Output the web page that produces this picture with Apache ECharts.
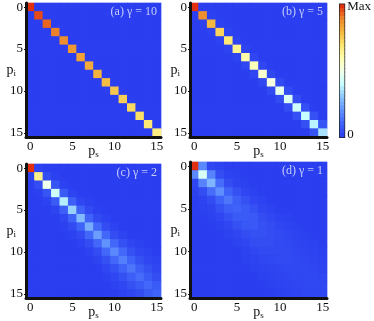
<!DOCTYPE html>
<html>
<head>
<meta charset="utf-8">
<style>
  html, body { margin: 0; padding: 0; background: #fff; }
  #main { width: 374px; height: 321px; }
</style>
<script src="https://cdn.jsdelivr.net/npm/echarts@6/dist/echarts.min.js"></script>
</head>
<body>
<div id="main"></div>
<script>
// tick labels shared by all panels
const photonNumbers = ['0','1','2','3','4','5','6','7','8','9','10','11','12','13','14','15']

// (a) gamma = 10
const gamma10 = [
  [1.00,0,0,0,0,0,0,0,0,0,0,0,0,0,0,0],
  [0,.97,0,0,0,0,0,0,0,0,0,0,0,0,0,0],
  [0,0,.94,0,0,0,0,0,0,0,0,0,0,0,0,0],
  [0,0,0,.91,0,0,0,0,0,0,0,0,0,0,0,0],
  [0,0,0,0,.89,0,0,0,0,0,0,0,0,0,0,0],
  [0,0,0,0,0,.87,0,0,0,0,0,0,0,0,0,0],
  [0,0,0,0,0,0,.85,0,0,0,0,0,0,0,0,0],
  [0,0,0,0,0,0,0,.83,0,0,0,0,0,0,0,0],
  [0,0,0,0,0,0,0,0,.81,0,0,0,0,0,0,0],
  [0,0,0,0,0,0,0,0,0,.79,0,0,0,0,0,0],
  [0,0,0,0,0,0,0,0,0,0,.77,0,0,0,0,0],
  [0,0,0,0,0,0,0,0,0,0,0,.75,0,0,0,0],
  [0,0,0,0,0,0,0,0,0,0,0,0,.73,0,0,0],
  [0,0,0,0,0,0,0,0,0,0,0,0,0,.71,0,0],
  [0,0,0,0,0,0,0,0,0,0,0,0,0,0,.69,0],
  [0,0,0,0,0,0,0,0,0,0,0,0,0,0,0,.67]
]

// (b) gamma = 5
const gamma5 = [
  [1.00,0,0,0,0,0,0,0,0,0,0,0,0,0,0,0],
  [0,.89,.005,0,0,0,0,0,0,0,0,0,0,0,0,0],
  [0,.005,.80,.005,0,0,0,0,0,0,0,0,0,0,0,0],
  [0,0,.005,.74,.01,0,0,0,0,0,0,0,0,0,0,0],
  [0,0,0,.01,.69,.01,0,0,0,0,0,0,0,0,0,0],
  [0,0,0,0,.01,.65,.015,0,0,0,0,0,0,0,0,0],
  [0,0,0,0,0,.015,.61,.02,0,0,0,0,0,0,0,0],
  [0,0,0,0,0,0,.02,.58,.02,0,0,0,0,0,0,0],
  [0,0,0,0,0,0,0,.02,.55,.025,0,0,0,0,0,0],
  [0,0,0,0,0,0,0,0,.025,.52,.03,0,0,0,0,0],
  [0,0,0,0,0,0,0,0,0,.03,.48,.035,0,0,0,0],
  [0,0,0,0,0,0,0,0,0,0,.035,.45,.04,0,0,0],
  [0,0,0,0,0,0,0,0,0,0,0,.04,.42,.045,0,0],
  [0,0,0,0,0,0,0,0,0,0,0,0,.045,.40,.05,0],
  [0,0,0,0,0,0,0,0,0,0,0,0,0,.05,.38,.06],
  [0,0,0,0,0,0,0,0,0,0,0,0,0,0,.06,.35]
]

// (c) gamma = 2
const gamma2 = [
  [1.00,.01,0,0,0,0,0,0,0,0,0,0,0,0,0,0],
  [.01,.66,.04,.005,0,0,0,0,0,0,0,0,0,0,0,0],
  [0,.04,.49,.06,.01,0,0,0,0,0,0,0,0,0,0,0],
  [0,.005,.06,.42,.08,.015,0,0,0,0,0,0,0,0,0,0],
  [0,0,.01,.08,.37,.09,.02,.005,0,0,0,0,0,0,0,0],
  [0,0,0,.015,.09,.32,.10,.03,.005,0,0,0,0,0,0,0],
  [0,0,0,0,.02,.10,.28,.10,.03,.01,0,0,0,0,0,0],
  [0,0,0,0,.005,.03,.10,.25,.11,.04,.01,0,0,0,0,0],
  [0,0,0,0,0,.005,.03,.11,.22,.11,.04,.015,0,0,0,0],
  [0,0,0,0,0,0,.01,.04,.11,.20,.11,.05,.02,.005,0,0],
  [0,0,0,0,0,0,0,.01,.04,.11,.18,.11,.05,.02,.01,0],
  [0,0,0,0,0,0,0,0,.015,.05,.11,.16,.10,.05,.02,.01],
  [0,0,0,0,0,0,0,0,0,.02,.05,.10,.14,.09,.05,.02],
  [0,0,0,0,0,0,0,0,0,.005,.02,.05,.09,.12,.08,.04],
  [0,0,0,0,0,0,0,0,0,0,.01,.02,.05,.08,.11,.08],
  [0,0,0,0,0,0,0,0,0,0,0,.01,.02,.04,.08,.10]
]

// (d) gamma = 1
const gamma1 = [
  [1.00,.18,.02,.01,0,0,0,0,0,0,0,0,0,0,0,0],
  [.18,.44,.17,.04,.01,.005,0,0,0,0,0,0,0,0,0,0],
  [.02,.17,.27,.12,.04,.015,.005,0,0,0,0,0,0,0,0,0],
  [.01,.04,.12,.19,.10,.05,.02,.005,0,0,0,0,0,0,0,0],
  [0,.01,.04,.10,.14,.09,.05,.02,.01,0,0,0,0,0,0,0],
  [0,.005,.015,.05,.09,.10,.08,.05,.02,.01,0,0,0,0,0,0],
  [0,0,.005,.02,.05,.08,.08,.07,.04,.02,.01,.005,0,0,0,0],
  [0,0,0,.005,.02,.05,.07,.07,.05,.04,.02,.01,.005,0,0,0],
  [0,0,0,0,.01,.02,.04,.05,.05,.04,.03,.02,.01,.005,0,0],
  [0,0,0,0,0,.01,.02,.04,.04,.04,.03,.025,.015,.01,.005,0],
  [0,0,0,0,0,0,.01,.02,.03,.03,.03,.03,.02,.015,.01,.005],
  [0,0,0,0,0,0,.005,.01,.02,.025,.03,.03,.025,.02,.015,.01],
  [0,0,0,0,0,0,0,.005,.01,.015,.02,.025,.025,.025,.02,.015],
  [0,0,0,0,0,0,0,0,.005,.01,.015,.02,.025,.025,.025,.02],
  [0,0,0,0,0,0,0,0,0,.005,.01,.015,.02,.025,.025,.025],
  [0,0,0,0,0,0,0,0,0,0,.005,.01,.015,.02,.025,.025]
]

const panelTitles = ['(a) γ = 10', '(b) γ = 5', '(c) γ = 2', '(d) γ = 1']

// colour bar steps, top (Max) to bottom (0)
const barLevels = [1,.97,.94,.91,.88,.85,.82,.79,.76,.73,.7,.67,.64,.61,.58,.55,.52,.49,.46,.43,.4,.37,.34,.31,.28,.25,.22,.19,.16,.13,.1,.07,.04,.01]
const barLabels = { 0: 'Max', 33: '0' }

const colorStops = ['#2b3ff0','#3f62f8','#6193ff','#8cc4ff','#c6ffff','#f2ffe8','#ffffb0','#fde56e','#f5b840','#ec8a2c','#e2300f']

const FONT = '"Liberation Serif", serif'
const grids = [
  { left: 26, top: 3, width: 135, height: 134 },
  { left: 190, top: 3, width: 137, height: 134 },
  { left: 26, top: 164, width: 135, height: 135 },
  { left: 190, top: 162, width: 137, height: 136 }
]
const matrices = [gamma10, gamma5, gamma2, gamma1]

const toCells = m => {
  let cells = []
  m.forEach((row, i) => row.forEach((v, j) => cells.push([j, i, v])))
  return cells
}

const nameRich = {
  b: { fontFamily: FONT, fontSize: 14, color: '#111' },
  s: { fontFamily: FONT, fontSize: 9, color: '#111', verticalAlign: 'bottom', padding: [7, 0, 0, 0] }
}

const chart = echarts.init(document.getElementById('main'), null, { renderer: 'canvas' })

let xAxes = [], yAxes = [], series = [], gridList = [], titles = []
matrices.forEach((m, k) => {
  gridList.push(Object.assign({ show: true, borderWidth: 1, borderColor: '#c9d2f7', backgroundColor: '#2b3ff0' }, grids[k]))
  xAxes.push({
    type: 'category', gridIndex: k, data: photonNumbers, position: 'bottom', z: 5,
    name: '{b|p}{s|s}', nameLocation: 'middle', nameGap: 6, nameMoveOverlap: false,
    nameTextStyle: { rich: nameRich },
    axisLine: { onZero: false, lineStyle: { color: '#111', width: 3 } },
    axisTick: { show: false },
    axisLabel: { interval: 4, margin: 3, color: '#111', fontFamily: FONT, fontSize: 13 },
    splitLine: { show: false }
  })
  yAxes.push({
    type: 'category', gridIndex: k, data: photonNumbers, inverse: true, position: 'left', z: 5,
    name: '{b|p}{s|i}', nameLocation: 'middle', nameGap: 10, nameRotate: 0, nameMoveOverlap: false,
    nameTextStyle: { rich: nameRich },
    axisLine: { onZero: false, lineStyle: { color: '#111', width: 3 } },
    axisTick: { show: true, alignWithLabel: true, length: 2, lineStyle: { color: '#111' } },
    axisLabel: { interval: 4, margin: 3, color: '#111', fontFamily: FONT, fontSize: 13 },
    splitLine: { show: false }
  })
  series.push({ type: 'heatmap', xAxisIndex: k, yAxisIndex: k, data: toCells(m), progressive: 0, emphasis: { disabled: true } })
  titles.push({
    text: panelTitles[k], right: 374 - grids[k].left - grids[k].width + 4, top: grids[k].top + 3,
    textStyle: { color: '#c5cdfb', fontFamily: FONT, fontSize: 12, fontWeight: 'normal' }, padding: 0
  })
})

// colour bar is one more heatmap column
gridList.push({ left: 340, top: 4, width: 10, height: 133, show: true, borderWidth: 2, borderColor: '#222' })
xAxes.push({ type: 'category', gridIndex: 4, data: ['bar'], show: false })
yAxes.push({
  type: 'category', gridIndex: 4, data: barLevels.map(String), inverse: true, position: 'right',
  axisLine: { show: false }, axisTick: { show: false },
  axisLabel: {
    interval: 0, margin: 3, color: '#111', fontFamily: FONT, fontSize: 13,
    formatter: (v, i) => barLabels[i] || ''
  }
})
series.push({
  type: 'heatmap', xAxisIndex: 4, yAxisIndex: 4, progressive: 0, emphasis: { disabled: true },
  data: barLevels.map((v, i) => [0, i, v])
})

chart.setOption({
  animation: false,
  backgroundColor: '#fff',
  title: titles,
  tooltip: { show: false },
  visualMap: { show: false, min: 0, max: 1, seriesIndex: [0, 1, 2, 3, 4], inRange: { color: colorStops } },
  grid: gridList,
  xAxis: xAxes,
  yAxis: yAxes,
  series: series
})
</script>
</body>
</html>
